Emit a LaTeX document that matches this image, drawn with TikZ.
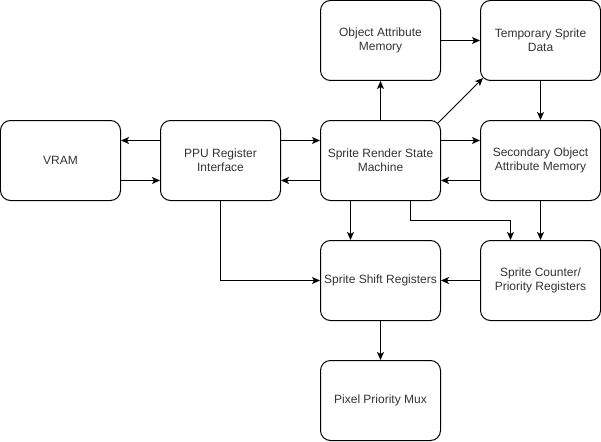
\documentclass[tikz,border=0pt]{standalone}
\usepackage{fontspec}
\setmainfont{Liberation Sans}
\usetikzlibrary{arrows.meta}

\begin{document}
\begin{tikzpicture}[x=1pt,y=-1pt,line width=1pt,
    block/.style={draw,rounded corners=10pt,minimum width=120pt,minimum height=80pt,
      align=center,text=black!80,font=\fontsize{12}{14}\selectfont,inner sep=1pt},
    link/.style={-{Stealth[length=8pt,width=7pt,inset=2pt]}}]
        \useasboundingbox (-0.5,-0.5) rectangle (600.5,440.5);

        \node [block] (vram) at (60,160) {VRAM};
        \node [block] (ppu) at (220,160) {PPU Register\\Interface};
        \node [block] (fsm) at (380,160) {Sprite Render State\\Machine};
        \node [block] (oam) at (380,40) {Object Attribute\\Memory};
        \node [block] (tmp) at (540,40) {Temporary Sprite\\Data};
        \node [block] (soam) at (540,160) {Secondary Object\\Attribute Memory};
        \node [block] (shift) at (380,280) {Sprite Shift Registers};
        \node [block] (count) at (540,280) {Sprite Counter/\\Priority Registers};
        \node [block] (mux) at (380,400) {Pixel Priority Mux};

        % horizontal pairs
        \draw [link] ([yshift=20pt]ppu.west) -- ([yshift=20pt]vram.east);
        \draw [link] ([yshift=-20pt]vram.east) -- ([yshift=-20pt]ppu.west);
        \draw [link] ([yshift=20pt]ppu.east) -- ([yshift=20pt]fsm.west);
        \draw [link] ([yshift=-20pt]fsm.west) -- ([yshift=-20pt]ppu.east);
        \draw [link] ([yshift=20pt]fsm.east) -- ([yshift=20pt]soam.west);
        \draw [link] ([yshift=-20pt]soam.west) -- ([yshift=-20pt]fsm.east);

        \draw [link] (fsm) -- (oam);
        \draw [link] (oam) -- (tmp);
        \draw [link] ([shift={(-3,3)}]fsm.north east) -- ([shift={(3,-3)}]tmp.south west);
        \draw [link] (tmp) -- (soam);
        \draw [link] (soam) -- (count);

        % down to the registers
        \draw [link] ([xshift=-30pt]fsm.south) -- ([xshift=-30pt]shift.north);
        \draw [link] ([xshift=30pt]fsm.south) |- (510,220) -- ([xshift=-30pt]count.north);
        \draw [link] (ppu.south) |- (shift.west);
        \draw [link] (count) -- (shift);
        \draw [link] (shift) -- (mux);
      \end{tikzpicture}
\end{document}
